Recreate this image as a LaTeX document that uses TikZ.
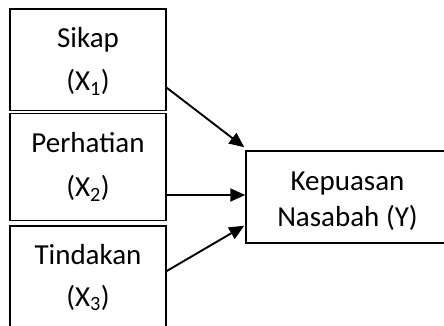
\documentclass[tikz,border=0pt]{standalone}
\usepackage{fontspec}
\setmainfont{Carlito}
\usetikzlibrary{arrows.meta}
\begin{document}
\begin{tikzpicture}[x=1pt,y=-1pt,
  box/.style={draw,line width=1.5pt,rectangle,inner sep=0pt},
  txt/.style={anchor=base,inner sep=0pt,font=\fontsize{29}{34}\selectfont},
  arr/.style={line width=1.9pt,-{Triangle[length=15pt,width=13pt]}}]
\useasboundingbox (0,0) rectangle (444,326);
\clip (0,0) rectangle (444,326);
\node[box,minimum width=156pt,minimum height=101.5pt] (b1) at (88,59.75) {};
\node[box,minimum width=156pt,minimum height=107pt] (b2) at (88,167) {};
\node[box,minimum width=156pt,minimum height=114pt] (b3) at (88,283) {};
\node[box,minimum width=203pt,minimum height=92pt] (y) at (347.5,197) {};
\node[txt] (t1a) at (88,47.3) {Sikap};
\node[txt] (t1b) at (88,90.7) {(X\textsubscript{1})};
\node[txt] (t2a) at (88,152.7) {Perhatian};
\node[txt] (t2b) at (88,196.7) {(X\textsubscript{2})};
\node[txt] (t3a) at (88,264) {Tindakan};
\node[txt] (t3b) at (88,306) {(X\textsubscript{3})};
\node[txt] (ya) at (347.5,190) {Kepuasan};
\node[txt] (yb) at (347.5,226.5) {Nasabah (Y)};
\draw[arr] ([yshift=-28pt]b1.east) -- ([shift={(-1pt,3pt)}]y.north west);
\draw[arr] ([yshift=-28pt]b2.east) -- ([yshift=2pt]y.west);
\draw[arr] ([yshift=12pt]b3.east) -- ([shift={(-1pt,-28.7pt)}]y.west);
\end{tikzpicture}
\end{document}
